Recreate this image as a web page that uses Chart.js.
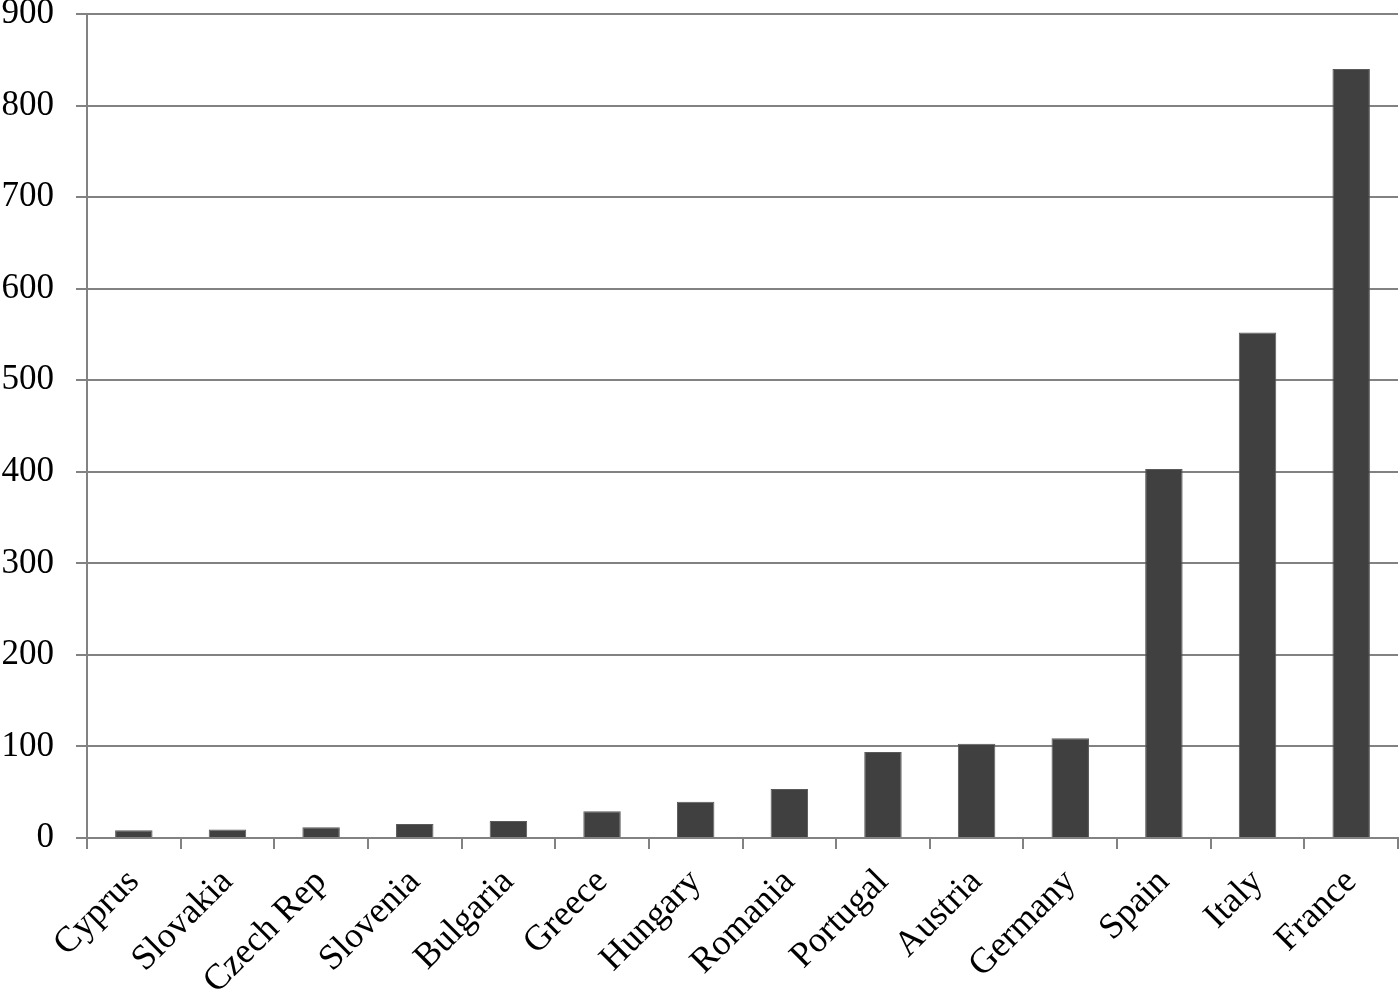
<!DOCTYPE html>
<html>
<head>
<meta charset="utf-8">
<script src="https://cdn.jsdelivr.net/npm/chart.js@4"></script>
<style>
  html, body { margin: 0; padding: 0; background: #fff; }
  #wrap { width: 1400px; height: 993px; }
</style>
</head>
<body>
<div id="wrap"><canvas id="chart" width="1400" height="993"></canvas></div>
<script>
// countries, sorted ascending
const countries = ["Cyprus", "Slovakia", "Czech Rep", "Slovenia", "Bulgaria", "Greece", "Hungary",
  "Romania", "Portugal", "Austria", "Germany", "Spain", "Italy", "France"];
const values = [8.5, 9.3, 11.8, 15.4, 18.7, 29.3, 39.6, 53.5, 93.8, 103, 109, 403, 552, 840];

const yMin = 0;
const yMax = 900;
const yStep = 100;

const serif = "'Liberation Serif', 'Times New Roman', serif";
const gray = '#828282';

const ctx = document.getElementById('chart').getContext('2d');

const chart = new Chart(ctx, {
    type: 'bar',
    data: {
        labels: countries,
        datasets: [{
            data: values,
            backgroundColor: '#404040',
            borderColor: '#5a5a5a',
            borderWidth: 1,
            barPercentage: 0.4,
            categoryPercentage: 1.0
        }]
    },
    options: {
        responsive: false,
        animation: false,
        layout: { padding: { left: 0, right: 2, top: 14, bottom: 0 } },
        plugins: {
            legend: { display: false },
            tooltip: { enabled: false }
        },
        scales: {
            x: {
                // fixed axis height so the plot bottom sits where the original does
                afterFit: (s) => { s.height = 155; s.paddingLeft = 0; s.paddingRight = 0; },
                grid: {
                    offset: true,
                    drawOnChartArea: false,
                    drawTicks: true,
                    tickLength: 11,
                    color: gray,
                    lineWidth: 2
                },
                border: { color: gray, width: 2 },
                ticks: {
                    color: '#000',
                    font: { family: serif, size: 36 },
                    minRotation: 45,
                    maxRotation: 45,
                    padding: 12,
                    autoSkip: false
                }
            },
            y: {
                min: yMin,
                max: yMax,
                afterFit: (s) => { s.width = 87; s.paddingTop = 0; s.paddingBottom = 0; },
                grid: {
                    color: gray,
                    lineWidth: 2,
                    tickLength: 11
                },
                border: { color: gray, width: 2 },
                ticks: {
                    stepSize: yStep,
                    color: '#000',
                    font: { family: serif, size: 35 },
                    padding: 22
                }
            }
        }
    }
});
</script>
</body>
</html>
